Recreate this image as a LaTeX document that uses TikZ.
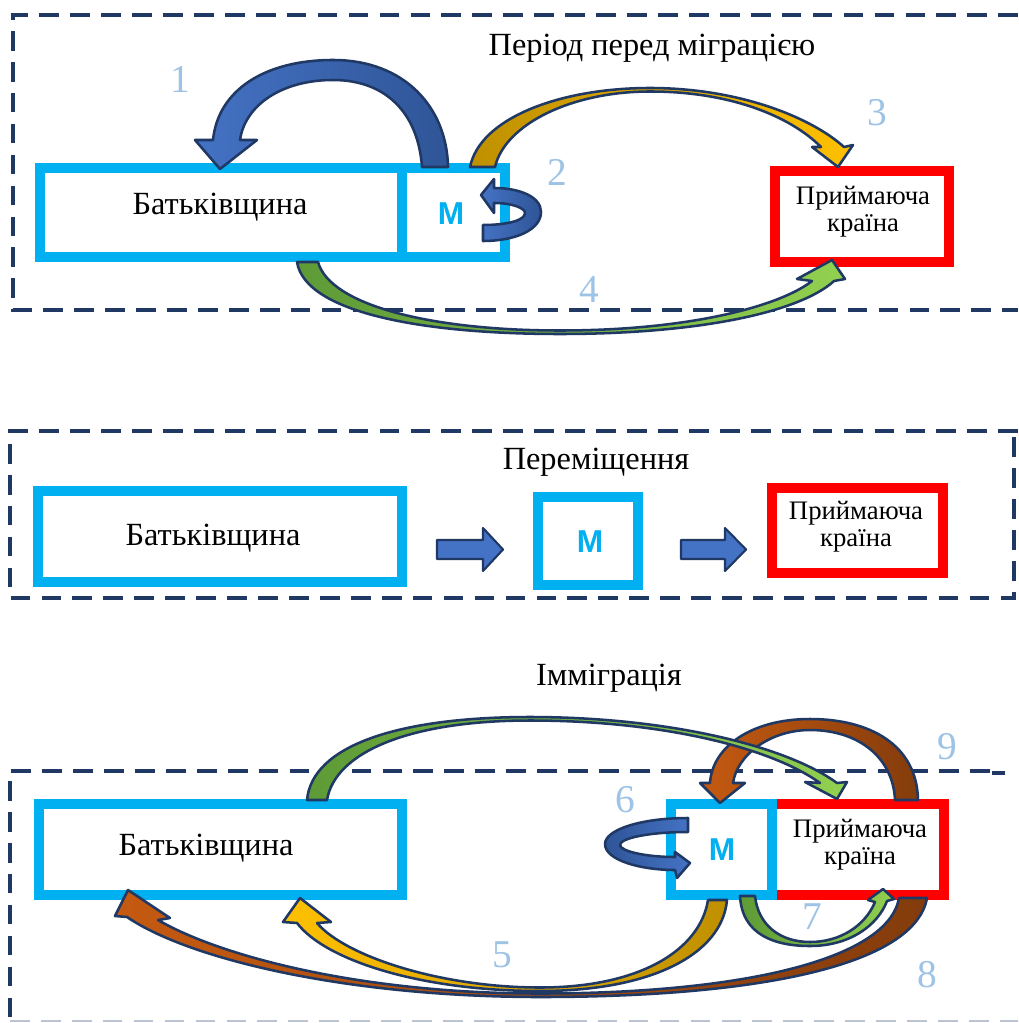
\documentclass[tikz,border=0pt]{standalone}
\usepackage{fontspec}
\setmainfont{Liberation Serif}
\newfontfamily\msans{Liberation Sans}
\definecolor{cyanb}{HTML}{00B0F0}
\definecolor{redb}{HTML}{FF0000}
\definecolor{navy}{HTML}{1F3864}
\definecolor{numc}{HTML}{9DC3E6}
\definecolor{blueA}{HTML}{4472C4}
\definecolor{blueB}{HTML}{2F5597}
\definecolor{goldA}{HTML}{BF9000}
\definecolor{goldB}{HTML}{FFC000}
\definecolor{greenA}{HTML}{5E9A36}
\definecolor{greenB}{HTML}{92D050}
\definecolor{orA}{HTML}{C55A11}
\definecolor{orB}{HTML}{843C0C}
\tikzset{
  frame/.style={navy, line width=2.2pt, dash pattern=on 14pt off 8pt},
  cbox/.style={draw=cyanb, line width=7pt, fill=white, inner sep=0pt},
  rbox/.style={draw=redb, line width=7pt, fill=white, inner sep=0pt},
  lbl/.style={font=\fontsize{23}{27}\selectfont, inner sep=0pt},
  lbls/.style={font=\fontsize{19}{19}\selectfont, align=center, inner sep=0pt},
  mlbl/.style={font=\msans\bfseries\fontsize{22.5}{22.5}\selectfont, text=cyanb, inner sep=0pt},
  num/.style={font=\fontsize{28}{28}\selectfont, text=numc, inner sep=0pt},
  arr/.style={draw=navy, line width=1.8pt, line join=round},
}
\begin{document}
\begin{tikzpicture}[x=0.025cm, y=-0.025cm]
\useasboundingbox (0,0) rectangle (1018,1023);
\fill[white] (0,0) rectangle (1018,1023);

% ================= Panel 1 =================
\draw[frame] (1018,15) -- (13,15) -- (13,310) -- (1018,310);
\node[lbl] (t1) at (652,48) {Період перед міграцією};

\node[cbox, minimum width=362*0.025cm, minimum height=89*0.025cm] (home1) at (221,212.5) {};
\node[cbox, minimum width=103*0.025cm, minimum height=89*0.025cm] (m1) at (453.5,212.5) {};
\node[lbl] (home1t) at (220,207) {Батьківщина};
\node[mlbl] (m1t) at (451,214) {М};
\node[rbox, minimum width=174*0.025cm, minimum height=91*0.025cm] (recv1) at (862,216.5) {};
\node[lbls] (recv1t) at (863,212) {Приймаюча\\країна};

% arrow 1
\shadedraw[arr, left color=blueA, right color=blueB]
 (422,167) .. controls (418,112) and (385,80) .. (333,80)
 .. controls (282,80) and (245,105) .. (240,140)
 -- (257,140) -- (220,169) -- (195,140) -- (213,140)
 .. controls (218,90) and (265,60) .. (333,60)
 .. controls (405,60) and (447,108) .. (448,167) -- cycle;
% arrow 3
\shadedraw[arr, left color=goldA, right color=goldB]
 (470,167) .. controls (480,118) and (560,88) .. (650,88)
 .. controls (740,88) and (812,118) .. (844,147)
 -- (853,145) -- (838,167) -- (812,147) -- (821,147)
 .. controls (790,116) and (730,91.5) .. (650,91.5)
 .. controls (572,91.5) and (505,124) .. (495,167) -- cycle;
% arrow 2
\shadedraw[arr, left color=blueA, right color=blueB]
 (483,225) -- (483,241) .. controls (515,241) and (541,230) .. (541,212)
 .. controls (541,197) and (520,188) .. (494,188) -- (494,179) -- (481,195) -- (494,213) -- (494,203)
 .. controls (512,203) and (525,208) .. (525,213) .. controls (525,221) and (505,225) .. (483,225) -- cycle;
% arrow 4
\shadedraw[arr, left color=greenA, right color=greenB]
 (297,262) .. controls (305,312) and (420,334) .. (560,334)
 .. controls (700,334) and (800,312) .. (834,281)
 -- (845,279) -- (832,260) -- (797,279) -- (812,281)
 .. controls (780,306) and (690,330.5) .. (560,330.5)
 .. controls (430,330.5) and (330,305) .. (318,262) -- cycle;

\node[num] (n1) at (180,80) {1};
\node[num] (n2) at (557,172) {2};
\node[num] (n3) at (877,113) {3};
\node[num] (n4) at (589,290) {4};

% ================= Panel 2 =================
\draw[frame] (1018,431) -- (10,431) -- (10,598) -- (1014,598) -- (1014,431);
\node[lbl] (t2) at (596,462) {Переміщення};
\node[cbox, minimum width=364*0.025cm, minimum height=91*0.025cm] (home2) at (220,536.5) {};
\node[lbl] (home2t) at (213,538) {Батьківщина};
\node[cbox, minimum width=100*0.025cm, minimum height=88*0.025cm] (m2) at (588,541) {};
\node[mlbl] (m2t) at (590,542) {М};
\node[rbox, minimum width=171*0.025cm, minimum height=85*0.025cm] (recv2) at (857.5,530.5) {};
\node[lbls] (recv2t) at (856,527) {Приймаюча\\країна};
\draw[arr, fill=blueA, line width=1.5pt]
 (437,540) -- (483,540) -- (483,528) -- (503,549.5) -- (483,571) -- (483,559) -- (437,559) -- cycle;
\draw[arr, fill=blueA, line width=1.5pt]
 (681,540) -- (725,540) -- (725,528) -- (746,549.5) -- (725,571) -- (725,559) -- (681,559) -- cycle;

% ================= Panel 3 =================
\node[lbl] (t3) at (609,678) {Імміграція};
\draw[frame] (990,771) -- (10,771) -- (10,1023);
\draw[navy, line width=2.2pt] (992,773) -- (1005,773);
\draw[navy!30, line width=1.2pt, dash pattern=on 14pt off 8pt] (10,1021) -- (1018,1021);

\node[cbox, minimum width=363*0.025cm, minimum height=91*0.025cm] (home3) at (220.5,849.5) {};
\node[lbl] (home3t) at (206,848) {Батьківщина};
\node[rbox, minimum width=172*0.025cm, minimum height=91*0.025cm] (recv3) at (858,849.5) {};
\node[cbox, minimum width=101*0.025cm, minimum height=91*0.025cm] (m3) at (721.5,849.5) {};
\node[mlbl] (m3t) at (722,850) {М};
\node[lbls] (recv3t) at (860,845) {Приймаюча\\країна};

% arrow 9
\shadedraw[arr, left color=orA, right color=orB]
 (918,800) .. controls (917,745) and (870,719) .. (810,719)
 .. controls (750,719) and (712,748) .. (710,783)
 -- (700,783) -- (720,803) -- (745,783) -- (733,783)
 .. controls (737,755) and (770,730) .. (810,730)
 .. controls (858,730) and (893,757) .. (895,800) -- cycle;
% green big arc
\shadedraw[arr, left color=greenA, right color=greenB]
 (307,800) .. controls (312,745) and (400,717) .. (530,717)
 .. controls (665,717) and (785,745) .. (837,783)
 -- (847,782) -- (837,799) -- (805,782) -- (820,783)
 .. controls (770,747) and (660,720.5) .. (530,720.5)
 .. controls (410,720.5) and (335,752) .. (327,800) -- cycle;
% arrow 6
\shadedraw[arr, left color=blueB, right color=blueA]
 (688,818) .. controls (640,818) and (605,830) .. (605,844)
 .. controls (605,860) and (640,870) .. (675,870)
 -- (677,878) -- (690,863) -- (675,852) -- (675,857)
 .. controls (645,857) and (620,851) .. (620,845)
 .. controls (620,838) and (650,832) .. (688,832) -- cycle;
% brown 8
\shadedraw[arr, left color=orA, right color=orB]
 (927,898) .. controls (915,965) and (760,997) .. (540,997)
 .. controls (350,997) and (190,960) .. (127,917)
 -- (115,916) -- (128,890) -- (170,918) -- (158,920)
 .. controls (220,956) and (360,993.5) .. (540,993.5)
 .. controls (740,993.5) and (888,960) .. (899,898) -- cycle;
% yellow
\shadedraw[arr, left color=goldB, right color=goldA]
 (727,900) .. controls (722,955) and (650,991) .. (540,991)
 .. controls (420,991) and (325,960) .. (297,923)
 -- (283,922) -- (300,898) -- (331,922) -- (317,923)
 .. controls (345,956) and (440,987.5) .. (540,987.5)
 .. controls (640,987.5) and (700,950) .. (708,900) -- cycle;
% green 7
\shadedraw[arr, left color=greenA, right color=greenB]
 (740,896) .. controls (742,935) and (775,946) .. (810,946)
 .. controls (850,946) and (878,925) .. (887,901)
 -- (894,899) -- (883,889) -- (868,900) -- (875,902)
 .. controls (865,926) and (840,942) .. (810,942)
 .. controls (780,942) and (758,925) .. (755,896) -- cycle;

\node[num] (n5) at (502,955) {5};
\node[num] (n6) at (625,800) {6};
\node[num] (n7) at (812,917) {7};
\node[num] (n8) at (927,975) {8};
\node[num] (n9) at (947,747) {9};
\end{tikzpicture}
\end{document}
